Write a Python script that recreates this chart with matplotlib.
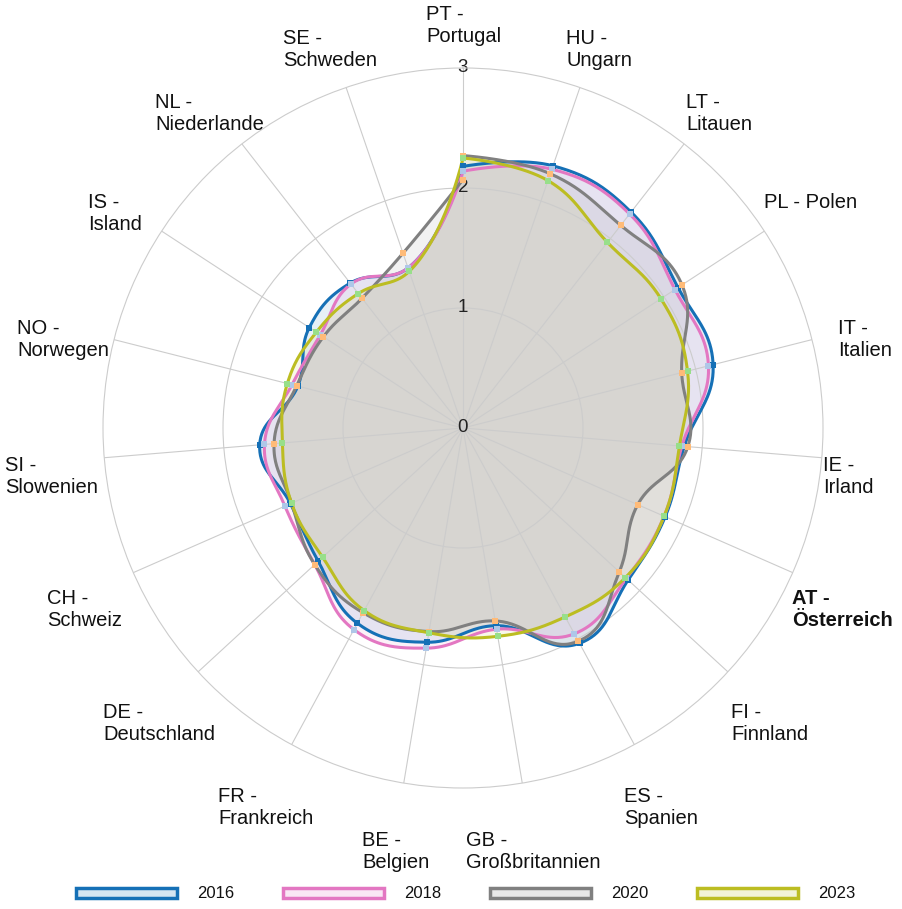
import numpy as np
import matplotlib
matplotlib.use("Agg")
import matplotlib.pyplot as plt
from matplotlib.patches import Rectangle
from matplotlib.colors import to_rgba

plt.rcParams["font.family"] = ["Liberation Sans", "DejaVu Sans"]

# ================================================================
# Daten (im Uhrzeigersinn ab oben)
# ================================================================
laender = ["PT -\nPortugal", "HU -\nUngarn", "LT -\nLitauen", "PL - Polen",
           "IT -\nItalien", "IE -\nIrland", "AT -\nÖsterreich", "FI -\nFinnland",
           "ES -\nSpanien", "GB -\nGroßbritannien", "BE -\nBelgien",
           "FR -\nFrankreich", "DE -\nDeutschland", "CH -\nSchweiz",
           "SI -\nSlowenien", "NO -\nNorwegen", "IS -\nIsland",
           "NL -\nNiederlande", "SE -\nSchweden"]
jahre = ["2016", "2018", "2020", "2023"]

w2016 = [2.18, 2.31, 2.28, 2.14, 2.15, 1.85, 1.84, 1.87, 2.04, 1.67,
         1.81, 1.85, 1.64, 1.57, 1.70, 1.42, 1.53, 1.53, 1.41]
w2018 = [2.14, 2.28, 2.26, 2.11, 2.11, 1.83, 1.83, 1.85, 1.95, 1.70,
         1.86, 1.91, 1.68, 1.62, 1.66, 1.47, 1.42, 1.52, 1.41]
w2020 = [2.27, 2.24, 2.14, 2.18, 1.88, 1.88, 1.59, 1.77, 2.02, 1.63,
         1.72, 1.75, 1.68, 1.56, 1.58, 1.43, 1.39, 1.37, 1.54]
w2023 = [2.25, 2.18, 1.96, 1.97, 1.93, 1.81, 1.83, 1.84, 1.79, 1.76,
         1.73, 1.73, 1.59, 1.56, 1.51, 1.51, 1.46, 1.42, 1.38]
reihen = [w2016, w2018, w2020, w2023]
# Schlusspunkt (PT) mit dem die Linie wieder oben ankommt
schluss_pt = [2.18, 2.14, 2.07, 2.25]

r_ticks = [0, 1, 2, 3]

linien_farben = ["#1570b6", "#e377c2", "#808080", "#bcbd22"]
punkt_farben = ["#1570b6", "#aec7e8", "#ffbb78", "#98df8a"]

# Lage der Länderbeschriftungen: linker Rand / Mitte in Pixeln (von oben links)
label_pos = [(426, 25.5), (566, 49), (686, 113.5), (764, 202), (838, 339),
             (823, 476), (792, 610), (731, 724), (624, 808), (466, 851),
             (362, 851), (218, 808), (103, 724), (47, 610), (5, 476),
             (17, 339), (88, 213), (155, 113.5), (283, 49)]

n = len(laender)
theta = np.arange(n) * 2 * np.pi / n


def spline_polar(werte, schluss, schritte=40):
    """Spline wie Highcharts (smoothing 1.5), Endpunkte ohne Glättung"""
    w = np.append(np.asarray(werte, float), schluss)
    th0 = np.append(theta, 2 * np.pi)
    pts = np.column_stack([w * np.sin(th0), w * np.cos(th0)])
    m = len(pts)
    sm = 1.5
    lc = pts.copy()
    rc = pts.copy()
    for i in range(1, m - 1):
        p, a, b = pts[i], pts[i - 1], pts[i + 1]
        dl = np.linalg.norm(a - p) / (sm + 1)
        dr = np.linalg.norm(b - p) / (sm + 1)
        ua = (a - p) / np.linalg.norm(a - p)
        ub = (b - p) / np.linalg.norm(b - p)
        bis = ua + ub
        if np.linalg.norm(bis) < 1e-9:
            t = ub
        else:
            t = np.array([-bis[1], bis[0]]) / np.linalg.norm(bis)
            if np.dot(t, ub) < 0:
                t = -t
        lc[i] = p - dl * t
        rc[i] = p + dr * t
    tt = np.linspace(0, 1, schritte, endpoint=False)[:, None]
    kurve = []
    for i in range(m - 1):
        p0, p1, p2, p3 = pts[i], rc[i], lc[i + 1], pts[i + 1]
        seg = ((1 - tt) ** 3) * p0 + 3 * ((1 - tt) ** 2) * tt * p1 \
            + 3 * (1 - tt) * tt ** 2 * p2 + tt ** 3 * p3
        kurve.append(seg)
    kurve = np.vstack(kurve + [pts[-1:]])
    th = np.unwrap(np.arctan2(kurve[:, 0], kurve[:, 1]))
    r = np.hypot(kurve[:, 0], kurve[:, 1])
    return th, r


# ================================================================
# Figur
# ================================================================
W, H = 903, 909
fig = plt.figure(figsize=(W / 100, H / 100), dpi=100)
fig.patch.set_facecolor("white")

cx, cy, R = 463, 428, 360
ax = fig.add_axes([(cx - R) / W, (H - cy - R) / H, 2 * R / W, 2 * R / H], polar=True)
ax.set_theta_zero_location("N")
ax.set_theta_direction(-1)
ax.set_ylim(0, 3)
ax.set_facecolor("none")

ax.set_xticks(theta)
ax.set_xticklabels([])
ax.set_yticks([1, 2])
ax.set_yticklabels([])
ax.grid(True, color="#cccccc", linewidth=0.8)
ax.spines["polar"].set_color("#cccccc")
ax.spines["polar"].set_linewidth(0.8)

# Flächen + Linien
for werte, s, lf in zip(reihen, schluss_pt, linien_farben):
    th, r = spline_polar(werte, s)
    ax.fill(th, r, color=lf, alpha=0.1, linewidth=0, zorder=1)
for werte, s, lf in zip(reihen, schluss_pt, linien_farben):
    th, r = spline_polar(werte, s)
    ax.plot(th, r, color=lf, linewidth=2.2, zorder=3, solid_joinstyle="round")
for werte, s, pf in zip(reihen, schluss_pt, punkt_farben):
    ax.plot(np.append(theta, 0), np.append(werte, s), "s", color=pf,
            markersize=4.8, markeredgewidth=0, zorder=4)

# Skalenbeschriftung
for k in r_ticks:
    ax.text(0, k, str(k), ha="center", va="center", fontsize=13.5,
            color="#222222", zorder=2.5)

# Länderbeschriftung
for lb, (lx, ly) in zip(laender, label_pos):
    fig.text(lx / W, 1 - ly / H, lb, ha="left", va="center", multialignment="left",
             fontsize=14.5, color="#111111",
             fontweight="bold" if lb.startswith("AT") else "normal")

# Legende
for i, (jahr, lf) in enumerate(zip(jahre, linien_farben)):
    x0 = 76 + i * 207
    fig.add_artist(Rectangle((x0 / W, (H - 898) / H), 101 / W, 10 / H,
                             transform=fig.transFigure,
                             facecolor=to_rgba(lf, 0.18), edgecolor=lf, linewidth=2.5))
    fig.text((x0 + 121) / W, (H - 893) / H, jahr, ha="left", va="center",
             fontsize=12, color="#111111")

fig.savefig("out.png", dpi=100)
